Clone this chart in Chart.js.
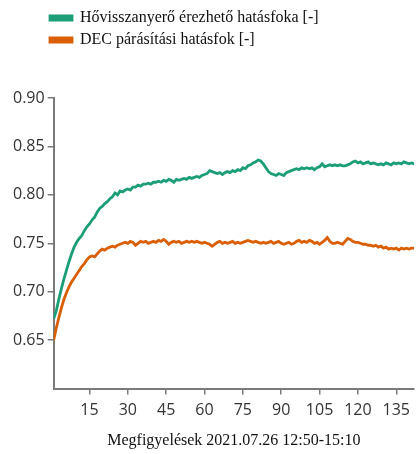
<!DOCTYPE html>
<html>
<head>
<meta charset="utf-8">
<script src="https://cdn.jsdelivr.net/npm/chart.js@4"></script>
<style>
  html, body { margin: 0; padding: 0; background: #fff; }
  #wrap { width: 416px; height: 454px; }
</style>
</head>
<body>
<div id="wrap"><canvas id="effChart"></canvas></div>
<script>
const heatRecovery = [
  0.672, 0.680, 0.692, 0.703, 0.713, 0.722, 0.731, 0.739, 0.746, 0.751,
  0.755, 0.758, 0.763, 0.767, 0.770, 0.774, 0.777, 0.782, 0.786, 0.788,
  0.791, 0.793, 0.796, 0.798, 0.802, 0.800, 0.804, 0.803, 0.805, 0.806,
  0.805, 0.808, 0.808, 0.810, 0.809, 0.811, 0.811, 0.812, 0.811, 0.813,
  0.813, 0.814, 0.813, 0.815, 0.814, 0.816, 0.815, 0.813, 0.816, 0.815,
  0.816, 0.817, 0.816, 0.818, 0.817, 0.818, 0.819, 0.818, 0.820, 0.821,
  0.822, 0.825, 0.824, 0.823, 0.822, 0.823, 0.821, 0.823, 0.824, 0.823,
  0.825, 0.824, 0.826, 0.825, 0.828, 0.827, 0.830, 0.831, 0.833, 0.834,
  0.836, 0.835, 0.832, 0.828, 0.824, 0.822, 0.821, 0.820, 0.822, 0.821,
  0.820, 0.823, 0.824, 0.825, 0.826, 0.827, 0.826, 0.828, 0.827, 0.828,
  0.827, 0.828, 0.826, 0.828, 0.829, 0.832, 0.829, 0.830, 0.831, 0.830,
  0.831, 0.830, 0.831, 0.830, 0.830, 0.831, 0.832, 0.834, 0.835, 0.833,
  0.834, 0.832, 0.833, 0.834, 0.832, 0.833, 0.832, 0.831, 0.832, 0.831,
  0.833, 0.832, 0.831, 0.833, 0.832, 0.833, 0.832, 0.834, 0.833, 0.832,
  0.833, 0.832
];
const decHumid = [
  0.650, 0.662, 0.673, 0.683, 0.692, 0.699, 0.705, 0.710, 0.714, 0.718,
  0.722, 0.726, 0.729, 0.733, 0.736, 0.737, 0.736, 0.739, 0.742, 0.744,
  0.743, 0.745, 0.746, 0.747, 0.746, 0.748, 0.749, 0.750, 0.751, 0.750,
  0.752, 0.751, 0.748, 0.750, 0.752, 0.751, 0.752, 0.750, 0.751, 0.752,
  0.751, 0.753, 0.752, 0.754, 0.752, 0.749, 0.751, 0.752, 0.751, 0.752,
  0.750, 0.751, 0.752, 0.751, 0.752, 0.751, 0.752, 0.751, 0.750, 0.751,
  0.750, 0.749, 0.747, 0.749, 0.751, 0.752, 0.750, 0.751, 0.750, 0.751,
  0.752, 0.750, 0.751, 0.750, 0.751, 0.752, 0.753, 0.752, 0.751, 0.752,
  0.751, 0.750, 0.751, 0.750, 0.751, 0.752, 0.750, 0.751, 0.752, 0.750,
  0.749, 0.750, 0.751, 0.749, 0.750, 0.752, 0.753, 0.751, 0.752, 0.751,
  0.753, 0.752, 0.750, 0.751, 0.749, 0.751, 0.753, 0.756, 0.752, 0.750,
  0.750, 0.751, 0.750, 0.749, 0.752, 0.755, 0.754, 0.752, 0.751, 0.751,
  0.750, 0.749, 0.749, 0.748, 0.748, 0.747, 0.748, 0.746, 0.747, 0.745,
  0.746, 0.744, 0.745, 0.744, 0.745, 0.743, 0.745, 0.744, 0.745, 0.744,
  0.745, 0.745
];
const seriesNames = ["Hővisszanyerő érezhető hatásfoka [-]", "DEC párásítási hatásfok [-]"];
const xTicks = [15, 30, 45, 60, 75, 90, 105, 120, 135];
const yTicks = [0.65, 0.70, 0.75, 0.80, 0.85, 0.90];
const xTitle = "Megfigyelések 2021.07.26 12:50-15:10";

// observation number on the x axis
const obs = heatRecovery.map((_, i) => i + 1);
const toPoints = arr => arr.map((v, i) => ({ x: obs[i], y: v }));

const axisGray = "#7a7a7a";
const sansFont = { family: "'Open Sans', sans-serif", size: 16 };
const serifFont = { family: "'Liberation Serif', serif", size: 16 };

// push the legend to the right and leave room under it
const legendTweak = {
  id: "legendTweak",
  beforeInit(chart) {
    const fit = chart.legend.fit;
    chart.legend.fit = function () {
      fit.call(this);
      this.height += 40;
    };
  },
  afterLayout(chart) {
    chart.legend.left = 44;
  }
};

new Chart("effChart", {
  type: "line",
  data: {
    datasets: [{
      label: seriesNames[0],
      data: toPoints(heatRecovery),
      borderColor: "#1b9e77",
      backgroundColor: "#1b9e77",
      borderWidth: 2.8,
      pointRadius: 0
    }, {
      label: seriesNames[1],
      data: toPoints(decHumid),
      borderColor: "#d95f02",
      backgroundColor: "#d95f02",
      borderWidth: 2.8,
      pointRadius: 0
    }]
  },
  options: {
    responsive: true,
    maintainAspectRatio: false,
    animation: false,
    layout: { padding: { top: 4, left: 10, right: 0, bottom: 4 } },
    plugins: {
      legend: {
        position: "top",
        align: "start",
        labels: {
          boxWidth: 22,
          boxHeight: 4,
          padding: 6,
          color: "#111",
          font: serifFont
        }
      },
      tooltip: { enabled: false }
    },
    scales: {
      x: {
        type: "linear",
        min: 1,
        max: 142,
        afterBuildTicks: scale => { scale.ticks = xTicks.map(v => ({ value: v })); },
        ticks: { color: "#333", font: sansFont, padding: 6, maxRotation: 0 },
        grid: { drawOnChartArea: false, tickLength: 6, color: axisGray, lineWidth: 1.5 },
        border: { color: axisGray, width: 2 },
        title: { display: true, text: xTitle, color: "#111", font: serifFont, padding: { top: 5, bottom: 0 } }
      },
      y: {
        min: 0.6,
        max: 0.9,
        afterBuildTicks: scale => { scale.ticks = yTicks.map(v => ({ value: v })); },
        ticks: { color: "#333", font: sansFont, padding: 3, callback: v => v.toFixed(2) },
        grid: { drawOnChartArea: false, tickLength: 6, color: axisGray, lineWidth: 1.5 },
        border: { color: axisGray, width: 2 }
      }
    }
  },
  plugins: [legendTweak]
});
</script>
</body>
</html>
